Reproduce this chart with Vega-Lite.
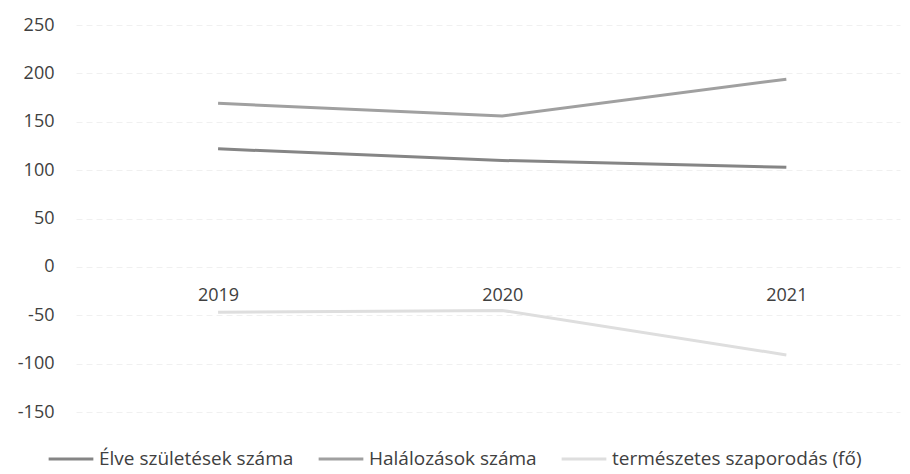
{
  "$schema": "https://vega.github.io/schema/vega-lite/v6.json",
  "width": 824,
  "height": 387,
  "autosize": "none",
  "padding": {"left": 76, "top": 25, "right": 10, "bottom": 62},
  "background": "white",
  "config": {"view": {"stroke": null}, "font": "Open Sans"},
  "data": {
    "values": [
      {"year": 2019, "series": "Élve születések száma", "value": 122},
      {"year": 2020, "series": "Élve születések száma", "value": 110},
      {"year": 2021, "series": "Élve születések száma", "value": 103},
      {"year": 2019, "series": "Halálozások száma", "value": 169},
      {"year": 2020, "series": "Halálozások száma", "value": 156},
      {"year": 2021, "series": "Halálozások száma", "value": 194},
      {"year": 2019, "series": "természetes szaporodás (fő)", "value": -47},
      {"year": 2020, "series": "természetes szaporodás (fő)", "value": -45},
      {"year": 2021, "series": "természetes szaporodás (fő)", "value": -91}
    ]
  },
  "mark": {"type": "line", "strokeWidth": 3},
  "encoding": {
    "x": {
      "field": "year",
      "type": "quantitative",
      "scale": {"domain": [2018.5, 2021.4], "nice": false, "zero": false},
      "axis": {
        "values": [2019, 2020, 2021],
        "format": "d",
        "title": null,
        "grid": false,
        "domain": false,
        "ticks": false,
        "offset": -145,
        "labelPadding": 19,
        "labelFontSize": 18,
        "labelColor": "#404040",
        "labelFlush": false
      }
    },
    "y": {
      "field": "value",
      "type": "quantitative",
      "scale": {"domain": [-150, 250], "nice": false},
      "axis": {
        "values": [-150, -100, -50, 0, 50, 100, 150, 200, 250],
        "labelExpr": "'' + datum.value",
        "title": null,
        "domain": false,
        "ticks": false,
        "labelPadding": 22,
        "labelFontSize": 18,
        "labelColor": "#404040",
        "gridColor": "#f0f0f0",
        "gridDash": [6, 4]
      }
    },
    "color": {
      "field": "series",
      "type": "nominal",
      "scale": {
        "domain": ["Élve születések száma", "Halálozások száma", "természetes szaporodás (fő)"],
        "range": ["#858585", "#a0a0a0", "#dedede"]
      },
      "legend": {
        "title": null,
        "orient": "none",
        "legendX": -29,
        "legendY": 410,
        "direction": "horizontal",
        "symbolType": "stroke",
        "symbolSize": 2000,
        "symbolStrokeWidth": 3,
        "labelFontSize": 19,
        "labelLimit": 0,
        "labelColor": "#404040",
        "labelOffset": 4,
        "columnPadding": 18
      }
    }
  }
}
